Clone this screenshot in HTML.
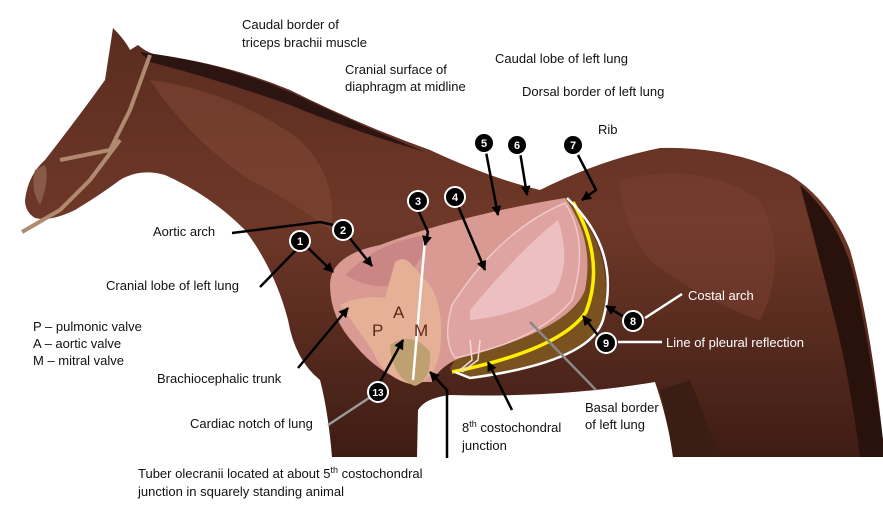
<!DOCTYPE html>
<html><head><meta charset="utf-8"><style>
html,body{margin:0;padding:0;background:#fff;}
svg{display:block;font-family:"Liberation Sans",sans-serif;}
.t{font-size:13px;fill:#111;}
</style></head><body>
<svg width="883" height="506" viewBox="0 0 883 506">
<defs>
<linearGradient id="hb" x1="0" y1="0" x2="0" y2="1">
<stop offset="0" stop-color="#5a2c20"/><stop offset="0.45" stop-color="#6e3828"/><stop offset="1" stop-color="#3e1c14"/></linearGradient>
<marker id="ah" viewBox="0 0 10 10" refX="9" refY="5" markerWidth="4" markerHeight="4" orient="auto"><path d="M0,0 L10,5 L0,10 Z" fill="#000"/></marker>
</defs>
<path fill="url(#hb)" d="M25,200 Q28,175 45,160 Q80,115 105,80 L113,28 Q125,40 130,50 L138,45 Q150,55 160,55 Q230,65 290,90 Q360,125 430,150 Q490,178 540,190 Q600,160 660,148 Q730,146 790,175 Q830,200 850,250 Q870,320 883,440 L883,457 L673,457 Q668,420 655,382 Q560,398 450,395 Q425,398 418,410 L417,457 L332,457 Q328,410 320,380 Q295,360 288,320 Q275,270 245,230 Q210,195 165,175 Q140,168 120,180 Q100,195 75,210 Q50,222 35,218 Q25,212 25,200 Z"/>
<path fill="#7e4634" opacity="0.6" d="M150,80 Q230,90 300,140 Q340,180 330,230 Q290,200 250,180 Q190,140 150,80 Z"/>
<path fill="#7a4030" opacity="0.5" d="M620,180 Q700,160 760,200 Q790,260 760,320 Q700,300 650,260 Q620,220 620,180 Z"/>
<path fill="#2a120c" d="M800,185 Q840,220 855,280 Q870,350 883,440 L883,457 L860,457 Q850,380 835,320 Q820,260 800,185 Z"/>
<path fill="#2c1510" d="M140,52 Q220,62 290,92 Q360,125 425,152 Q350,130 290,105 Q220,80 150,62 Z"/>
<path fill="#3a1e14" d="M690,380 L720,457 L673,457 Q668,420 660,390 Z"/>
<path fill="#8a5a48" d="M35,170 Q30,190 40,205 Q50,180 45,165 Z"/>
<path fill="none" stroke="#b08a70" stroke-width="4" d="M150,55 L130,110 L110,150 L60,160 M120,140 L90,180 L60,210 L22,232"/>
<path fill="#7a5220" d="M565,198 Q618,250 602,320 Q588,362 472,378 Q455,376 450,368 L560,200 Z"/>
<path fill="#d89a92" d="M330,285 Q330,255 380,245 Q460,215 565,198 Q595,240 585,290 Q570,330 460,358 Q440,366 432,382 L405,382 Q375,370 355,345 Q330,318 330,285 Z"/>
<path fill="#c98684" d="M345,275 Q380,240 430,235 Q420,270 395,285 Q370,290 345,275 Z"/>
<path fill="#e6b096" d="M340,305 Q360,295 385,298 L395,262 Q405,255 412,265 L430,285 Q445,310 440,350 Q435,380 415,385 Q385,380 372,350 Q355,325 340,305 Z"/>
<path fill="#bfa070" d="M390,345 Q412,330 430,352 Q432,380 415,386 Q392,378 390,345 Z"/>
<path fill="#dfa4a2" stroke="#f0c8c8" stroke-width="1.5" d="M452,305 Q500,230 565,203 Q590,240 572,300 Q540,340 455,358 Q442,340 452,305 Z"/>
<path fill="#ecc0c0" d="M470,310 Q520,250 558,220 Q572,262 555,292 Q520,315 470,320 Z"/>
<path fill="none" stroke="#ffee00" stroke-width="3.5" d="M573,202 Q606,260 586,312 Q560,350 452,372"/>
<path fill="none" stroke="#fff" stroke-width="2.5" d="M567,198 Q622,250 603,320 Q590,362 470,378 L455,372"/>
<path fill="none" stroke="#fff" stroke-width="2.5" d="M425,240 L413,380"/>
<path fill="none" stroke="#f4dada" stroke-width="1.5" d="M470,340 L472,360 L460,370 M480,340 L478,360 L462,372"/>
<text x="372" y="336" font-size="17" fill="#5a2a1a">P</text>
<text x="393" y="318" font-size="17" fill="#5a2a1a">A</text>
<text x="414" y="336" font-size="17" fill="#5a2a1a">M</text>
<g stroke="#000" stroke-width="2.5" fill="none">
<path d="M232,233 L320,222 L338,226"/>
<path d="M260,287 L298,248"/>
<path d="M305,245 L333,272" marker-end="url(#ah)"/>
<path d="M348,236 L372,266" marker-end="url(#ah)"/>
<path d="M418,210 L428,232 L425,245" marker-end="url(#ah)"/>
<path d="M458,206 L485,270" marker-end="url(#ah)"/>
<path d="M486,152 L498,215" marker-end="url(#ah)"/>
<path d="M520,152 L527,195" marker-end="url(#ah)"/>
<path d="M578,155 L596,190 L582,200" marker-end="url(#ah)"/>
<path d="M298,368 L348,308" marker-end="url(#ah)"/>
<path d="M380,382 L403,340" marker-end="url(#ah)"/>
<path d="M447,458 L447,390 L430,372" marker-end="url(#ah)"/>
<path d="M512,410 L488,362" marker-end="url(#ah)"/>
<path d="M600,338 L583,316" marker-end="url(#ah)"/>
<path d="M624,317 L606,306" marker-end="url(#ah)"/>
</g>
<path stroke="#888" stroke-width="2.5" d="M596,390 L530,322"/>
<path stroke="#999" stroke-width="2.5" d="M328,425 L372,396"/>
<path stroke="#fff" stroke-width="2.5" d="M645,318 L682,294 M618,342 L662,342"/>
<g font-size="11" font-weight="bold" text-anchor="middle" fill="#fff">
<g stroke="#fff" stroke-width="2" fill="#000">
<circle cx="300" cy="241" r="10"/><circle cx="343" cy="230" r="10"/><circle cx="418" cy="201" r="10"/>
<circle cx="455" cy="197" r="10"/><circle cx="484" cy="143" r="10"/><circle cx="517" cy="145" r="10"/>
<circle cx="573" cy="145" r="10"/><circle cx="633" cy="321" r="10"/><circle cx="606" cy="343" r="10"/>
<circle cx="378" cy="392" r="10"/></g>
<text x="300" y="245">1</text><text x="343" y="234">2</text><text x="418" y="205">3</text>
<text x="455" y="201">4</text><text x="484" y="147">5</text><text x="517" y="149">6</text>
<text x="573" y="149">7</text><text x="633" y="325">8</text><text x="606" y="347">9</text>
<text x="378" y="396" font-size="10">13</text>
</g>
<text class="t" x="242" y="29">Caudal border of</text>
<text class="t" x="242" y="47">triceps brachii muscle</text>
<text class="t" x="345" y="74">Cranial surface of</text>
<text class="t" x="345" y="91">diaphragm at midline</text>
<text class="t" x="495" y="63">Caudal lobe of left lung</text>
<text class="t" x="522" y="96">Dorsal border of left lung</text>
<text class="t" x="598" y="134">Rib</text>
<text class="t" x="153" y="236">Aortic arch</text>
<text class="t" x="106" y="290">Cranial lobe of left lung</text>
<text class="t" x="33" y="331">P – pulmonic valve</text>
<text class="t" x="33" y="348">A – aortic valve</text>
<text class="t" x="33" y="365">M – mitral valve</text>
<text class="t" x="157" y="383">Brachiocephalic trunk</text>
<text class="t" x="190" y="428">Cardiac notch of lung</text>
<text class="t" x="138" y="478">Tuber olecranii located at about 5<tspan font-size="9" dy="-5">th</tspan><tspan dy="5"> costochondral</tspan></text>
<text class="t" x="138" y="496">junction in squarely standing animal</text>
<text class="t" x="462" y="432">8<tspan font-size="9" dy="-5">th</tspan><tspan dy="5"> costochondral</tspan></text>
<text class="t" x="462" y="450">junction</text>
<text class="t" x="585" y="412">Basal border</text>
<text class="t" x="585" y="429">of left lung</text>
<text x="688" y="300" font-size="13" fill="#fff">Costal arch</text>
<text x="666" y="347" font-size="13" fill="#fff">Line of pleural reflection</text>
</svg>
</body></html>
